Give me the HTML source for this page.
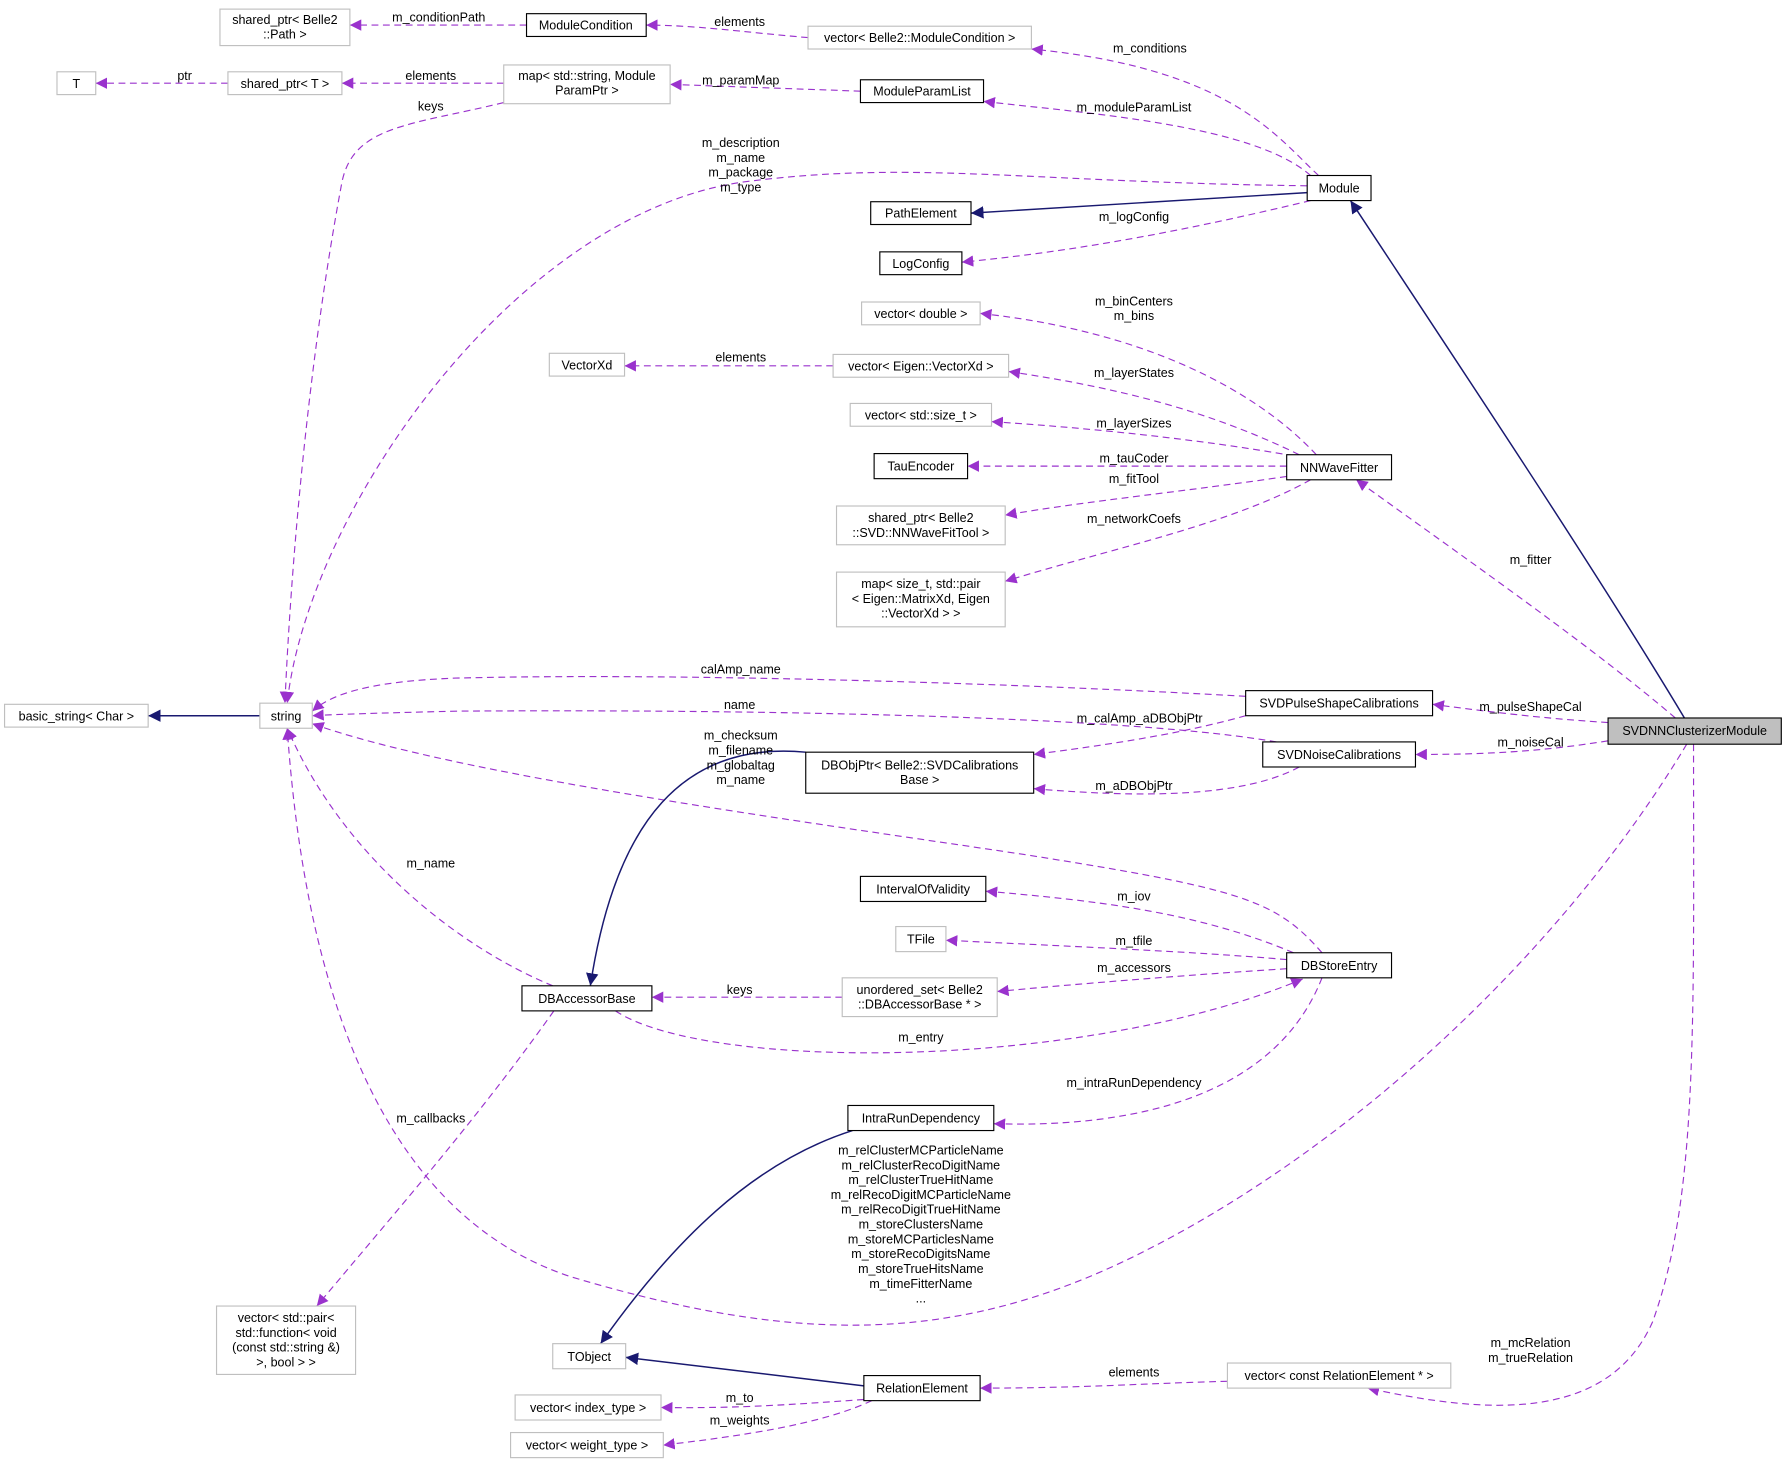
<!DOCTYPE html>
<html><head><meta charset="utf-8"><style>
html,body{margin:0;padding:0;background:#fff;}
svg text{font-family:"Liberation Sans",sans-serif;font-size:11px;fill:#000;}
</style></head><body>
<svg width="1787" height="1477" viewBox="0 0 1568 1296" xmlns="http://www.w3.org/2000/svg">
<defs>
<marker id="p" viewBox="0 0 10 10" refX="10" refY="5" markerWidth="10" markerHeight="10" markerUnits="userSpaceOnUse" orient="auto"><path d="M0,0L10,5L0,10z" fill="#9a32cd"/></marker>
<marker id="n" viewBox="0 0 10 10" refX="10" refY="5" markerWidth="11" markerHeight="11" markerUnits="userSpaceOnUse" orient="auto"><path d="M0,0L10,5L0,10z" fill="#191970"/></marker>
</defs>
<g fill="none" stroke="#9a32cd" stroke-dasharray="6,4" stroke-width="1" marker-end="url(#p)">
<path d="M462,22 L307,22"/>
<path d="M709,33 C650,28 610,22 567,22"/>
<path d="M200,73 L84,73"/>
<path d="M442,73 L300,73"/>
<path d="M755,80 C700,78 640,76 588,74"/>
<path d="M1157,154 C1120,120 1080,60 905,43"/>
<path d="M1150,154 C1100,110 960,100 863,89"/>
<path d="M442,90 C360,110 310,110 300,160 C270,320 255,500 250,617"/>
<path d="M1147,163 C900,160 800,140 650,160 C450,190 270,450 252,617"/>
<path d="M1150,176 C1050,200 950,220 844,230"/>
<path d="M1155,399 C1100,340 1000,290 860,275"/>
<path d="M731,321 L548,321"/>
<path d="M1140,399 C1060,360 980,340 885,326"/>
<path d="M1135,400 C1050,385 950,375 870,370"/>
<path d="M1129,409 L849,409"/>
<path d="M1129,418 C1050,430 950,440 882,452"/>
<path d="M1150,421 C1080,460 980,480 882,510"/>
<path d="M1093,611 C900,600 600,590 400,595 C320,598 290,610 274,624"/>
<path d="M1120,651 C1000,630 700,622 400,624 C320,626 290,627 274,628"/>
<path d="M1093,628 C1050,640 1000,650 907,662"/>
<path d="M1140,673 C1090,700 1000,700 907,692"/>
<path d="M1160,836 C1120,790 1090,780 900,750 C700,720 400,680 274,635"/>
<path d="M1135,836 C1050,800 960,790 865,782"/>
<path d="M1129,842 C1050,835 930,830 830,825"/>
<path d="M1129,850 C1050,855 960,862 875,870"/>
<path d="M739,875 L572,875"/>
<path d="M540,887 C620,940 950,940 1143,859"/>
<path d="M1160,858 C1120,960 1000,990 872,986"/>
<path d="M485,865 C400,830 300,750 252,639"/>
<path d="M1480,653 C1380,820 1200,1000 1000,1100 C840,1180 700,1180 500,1120 C350,1070 270,900 252,639"/>
<path d="M486,887 C420,980 350,1060 278,1146"/>
<path d="M1486,653 C1486,900 1490,1050 1450,1160 C1410,1250 1300,1240 1200,1218"/>
<path d="M1077,1212 C1000,1214 950,1218 860,1218"/>
<path d="M758,1228 C700,1232 650,1236 580,1235"/>
<path d="M765,1229 C720,1250 650,1260 582,1268"/>
<path d="M1470,630 C1400,570 1300,500 1190,421"/>
<path d="M1411,634 C1350,630 1310,625 1257,618"/>
<path d="M1411,650 C1350,660 1300,662 1242,662"/>
</g>
<g fill="none" stroke="#191970" stroke-width="1.3" marker-end="url(#n)">
<path d="M1147,169 L852,187"/>
<path d="M1478,630 C1400,500 1280,320 1185,176"/>
<path d="M228,628 L130,628"/>
<path d="M707,660 C600,650 540,720 518,865"/>
<path d="M758,1216 L549,1191"/>
<path d="M748,992 C660,1020 590,1090 527,1179"/>
</g>
<g stroke-width="1">
<rect x="193" y="8" width="114" height="32" fill="#fff" stroke="#bfbfbf"/>
<rect x="462" y="12" width="105" height="20" fill="#fff" stroke="#000"/>
<rect x="709" y="23" width="196" height="20" fill="#fff" stroke="#bfbfbf"/>
<rect x="50" y="63" width="34" height="20" fill="#fff" stroke="#bfbfbf"/>
<rect x="200" y="63" width="100" height="20" fill="#fff" stroke="#bfbfbf"/>
<rect x="442" y="57" width="146" height="34" fill="#fff" stroke="#bfbfbf"/>
<rect x="755" y="70" width="108" height="20" fill="#fff" stroke="#000"/>
<rect x="1147" y="154" width="56" height="22" fill="#fff" stroke="#000"/>
<rect x="764" y="177" width="88" height="20" fill="#fff" stroke="#000"/>
<rect x="772" y="221" width="72" height="20" fill="#fff" stroke="#000"/>
<rect x="756" y="265" width="104" height="20" fill="#fff" stroke="#bfbfbf"/>
<rect x="482" y="310" width="66" height="20" fill="#fff" stroke="#bfbfbf"/>
<rect x="731" y="311" width="154" height="20" fill="#fff" stroke="#bfbfbf"/>
<rect x="746" y="354" width="124" height="20" fill="#fff" stroke="#bfbfbf"/>
<rect x="767" y="398" width="82" height="22" fill="#fff" stroke="#000"/>
<rect x="1129" y="399" width="92" height="22" fill="#fff" stroke="#000"/>
<rect x="734" y="444" width="148" height="34" fill="#fff" stroke="#bfbfbf"/>
<rect x="734" y="502" width="148" height="48" fill="#fff" stroke="#bfbfbf"/>
<rect x="4" y="618" width="126" height="20" fill="#fff" stroke="#bfbfbf"/>
<rect x="228" y="617" width="46" height="22" fill="#fff" stroke="#bfbfbf"/>
<rect x="1093" y="606" width="164" height="22" fill="#fff" stroke="#000"/>
<rect x="1411" y="630" width="152" height="23" fill="#bfbfbf" stroke="#000"/>
<rect x="1108" y="651" width="134" height="22" fill="#fff" stroke="#000"/>
<rect x="707" y="660" width="200" height="36" fill="#fff" stroke="#000"/>
<rect x="755" y="769" width="110" height="22" fill="#fff" stroke="#000"/>
<rect x="786" y="813" width="44" height="22" fill="#fff" stroke="#bfbfbf"/>
<rect x="1129" y="836" width="92" height="22" fill="#fff" stroke="#000"/>
<rect x="739" y="858" width="136" height="34" fill="#fff" stroke="#bfbfbf"/>
<rect x="458" y="865" width="114" height="22" fill="#fff" stroke="#000"/>
<rect x="744" y="970" width="128" height="22" fill="#fff" stroke="#000"/>
<rect x="190" y="1146" width="122" height="60" fill="#fff" stroke="#bfbfbf"/>
<rect x="485" y="1179" width="64" height="22" fill="#fff" stroke="#bfbfbf"/>
<rect x="758" y="1207" width="102" height="22" fill="#fff" stroke="#000"/>
<rect x="1077" y="1196" width="196" height="22" fill="#fff" stroke="#bfbfbf"/>
<rect x="452" y="1224" width="128" height="22" fill="#fff" stroke="#bfbfbf"/>
<rect x="448" y="1257" width="134" height="22" fill="#fff" stroke="#bfbfbf"/>
</g>
<g text-anchor="middle">
<text x="250" y="21">shared_ptr&lt; Belle2</text><text x="250" y="34">::Path &gt;</text>
<text x="514" y="26">ModuleCondition</text>
<text x="807" y="37">vector&lt; Belle2::ModuleCondition &gt;</text>
<text x="67" y="77">T</text>
<text x="250" y="77">shared_ptr&lt; T &gt;</text>
<text x="515" y="70">map&lt; std::string, Module</text><text x="515" y="83">ParamPtr &gt;</text>
<text x="809" y="84">ModuleParamList</text>
<text x="1175" y="169">Module</text>
<text x="808" y="191">PathElement</text>
<text x="808" y="235">LogConfig</text>
<text x="808" y="279">vector&lt; double &gt;</text>
<text x="515" y="324">VectorXd</text>
<text x="808" y="325">vector&lt; Eigen::VectorXd &gt;</text>
<text x="808" y="368">vector&lt; std::size_t &gt;</text>
<text x="808" y="413">TauEncoder</text>
<text x="1175" y="414">NNWaveFitter</text>
<text x="808" y="458">shared_ptr&lt; Belle2</text><text x="808" y="471">::SVD::NNWaveFitTool &gt;</text>
<text x="808" y="516">map&lt; size_t, std::pair</text><text x="808" y="529">&lt; Eigen::MatrixXd, Eigen</text><text x="808" y="542">::VectorXd &gt; &gt;</text>
<text x="67" y="632">basic_string&lt; Char &gt;</text>
<text x="251" y="632">string</text>
<text x="1175" y="621">SVDPulseShapeCalibrations</text>
<text x="1487" y="645">SVDNNClusterizerModule</text>
<text x="1175" y="666">SVDNoiseCalibrations</text>
<text x="807" y="675">DBObjPtr&lt; Belle2::SVDCalibrations</text><text x="807" y="688">Base &gt;</text>
<text x="810" y="784">IntervalOfValidity</text>
<text x="808" y="828">TFile</text>
<text x="1175" y="851">DBStoreEntry</text>
<text x="807" y="872">unordered_set&lt; Belle2</text><text x="807" y="885">::DBAccessorBase * &gt;</text>
<text x="515" y="880">DBAccessorBase</text>
<text x="808" y="985">IntraRunDependency</text>
<text x="251" y="1160">vector&lt; std::pair&lt;</text><text x="251" y="1173">std::function&lt; void</text><text x="251" y="1186">(const std::string &amp;)</text><text x="251" y="1199">&gt;, bool &gt; &gt;</text>
<text x="517" y="1194">TObject</text>
<text x="809" y="1222">RelationElement</text>
<text x="1175" y="1211">vector&lt; const RelationElement * &gt;</text>
<text x="516" y="1239">vector&lt; index_type &gt;</text>
<text x="515" y="1272">vector&lt; weight_type &gt;</text>
<!-- edge labels -->
<text x="385" y="19">m_conditionPath</text>
<text x="649" y="23">elements</text>
<text x="162" y="70">ptr</text>
<text x="378" y="70">elements</text>
<text x="378" y="97">keys</text>
<text x="650" y="74">m_paramMap</text>
<text x="1009" y="46">m_conditions</text>
<text x="995" y="98">m_moduleParamList</text>
<text x="650" y="129">m_description</text><text x="650" y="142">m_name</text><text x="650" y="155">m_package</text><text x="650" y="168">m_type</text>
<text x="995" y="194">m_logConfig</text>
<text x="995" y="268">m_binCenters</text><text x="995" y="281">m_bins</text>
<text x="650" y="317">elements</text>
<text x="995" y="331">m_layerStates</text>
<text x="995" y="375">m_layerSizes</text>
<text x="995" y="406">m_tauCoder</text>
<text x="995" y="424">m_fitTool</text>
<text x="995" y="459">m_networkCoefs</text>
<text x="1343" y="495">m_fitter</text>
<text x="650" y="591">calAmp_name</text>
<text x="649" y="622">name</text>
<text x="1343" y="624">m_pulseShapeCal</text>
<text x="1000" y="634">m_calAmp_aDBObjPtr</text>
<text x="1343" y="655">m_noiseCal</text>
<text x="650" y="649">m_checksum</text><text x="650" y="662">m_filename</text><text x="650" y="675">m_globaltag</text><text x="650" y="688">m_name</text>
<text x="995" y="693">m_aDBObjPtr</text>
<text x="378" y="761">m_name</text>
<text x="995" y="790">m_iov</text>
<text x="995" y="829">m_tfile</text>
<text x="995" y="853">m_accessors</text>
<text x="649" y="872">keys</text>
<text x="808" y="914">m_entry</text>
<text x="995" y="954">m_intraRunDependency</text>
<text x="378" y="985">m_callbacks</text>
<text x="808" y="1013">m_relClusterMCParticleName</text><text x="808" y="1026">m_relClusterRecoDigitName</text><text x="808" y="1039">m_relClusterTrueHitName</text><text x="808" y="1052">m_relRecoDigitMCParticleName</text><text x="808" y="1065">m_relRecoDigitTrueHitName</text><text x="808" y="1078">m_storeClustersName</text><text x="808" y="1091">m_storeMCParticlesName</text><text x="808" y="1104">m_storeRecoDigitsName</text><text x="808" y="1117">m_storeTrueHitsName</text><text x="808" y="1130">m_timeFitterName</text><text x="808" y="1143">...</text>
<text x="1343" y="1182">m_mcRelation</text><text x="1343" y="1195">m_trueRelation</text>
<text x="995" y="1208">elements</text>
<text x="649" y="1230">m_to</text>
<text x="649" y="1250">m_weights</text>
</g>
</svg>
</body></html>
